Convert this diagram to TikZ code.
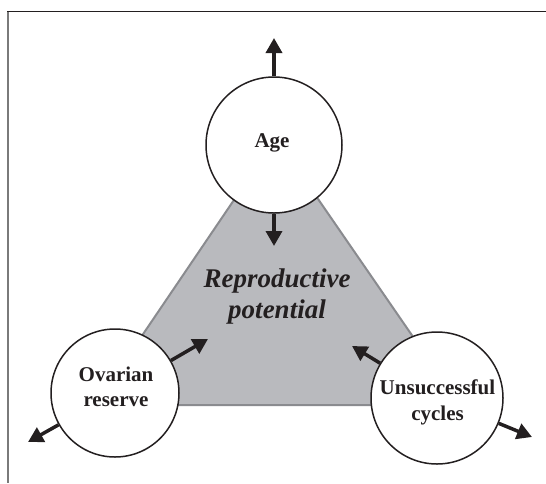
\documentclass[tikz,border=0pt]{standalone}
\usepackage{fontspec}
\setmainfont{Liberation Serif}
\usetikzlibrary{arrows.meta}
\definecolor{ink}{HTML}{231F20}
\definecolor{trifill}{HTML}{B9BABE}
\definecolor{triedge}{HTML}{8A8B8F}
\definecolor{framegray}{HTML}{7A7A7A}
\tikzset{
  factor/.style={circle, draw=ink, line width=1.5pt, fill=white, inner sep=0pt},
  factortext/.style={font=\fontsize{21}{25.5}\selectfont\bfseries, text=ink, align=center, inner sep=0pt},
  maintext/.style={font=\fontsize{27}{31}\selectfont\bfseries\itshape, text=ink, align=center, inner sep=0pt},
  arr/.style={draw=ink, line width=3.5pt, -{Triangle[length=15pt,width=16pt]}},
}
\begin{document}
\begin{tikzpicture}[x=1pt,y=-1pt]
\useasboundingbox (0,0) rectangle (546,483);
% frame
\draw[framegray, line width=2pt] (8,11) -- (8,483);
\draw[ink, line width=1pt] (7,11) -- (546,11);
% triangle
\filldraw[fill=trifill, draw=triedge, line width=2pt, line join=miter]
  (276,138) -- (95,405) -- (460,405) -- cycle;
% main text
\node[maintext] (rp) at (277,296) {Reproductive\\potential};
% circles
\node[factor, minimum size=136pt] (age) at (274,145) {};
\node[factor, minimum size=128pt] (ov) at (115,393) {};
\node[factor, minimum size=132pt] (us) at (437,398) {};
\node[factortext] (agetext) at (272,142.5) {Age};
\node[factortext] (ovtext) at (116,387) {Ovarian\\reserve};
\node[factortext] (ustext) at (437.5,402.5) {Unsuccessful\\cycles};
% arrow end points
\coordinate (ageup) at (274,38);
\coordinate (agedown) at (274,246);
\coordinate (ovin) at (208,339);
\coordinate (ovout) at (28,442);
\coordinate (usin) at (352,346);
\coordinate (usout) at (532,437);
% arrows
\draw[arr] (age) -- (ageup);
\draw[arr] (age) -- (agedown);
\draw[arr] (ov) -- (ovin);
\draw[arr] (ov) -- (ovout);
\draw[arr] (us) -- (usin);
\draw[arr] (us) -- (usout);
\end{tikzpicture}
\end{document}
